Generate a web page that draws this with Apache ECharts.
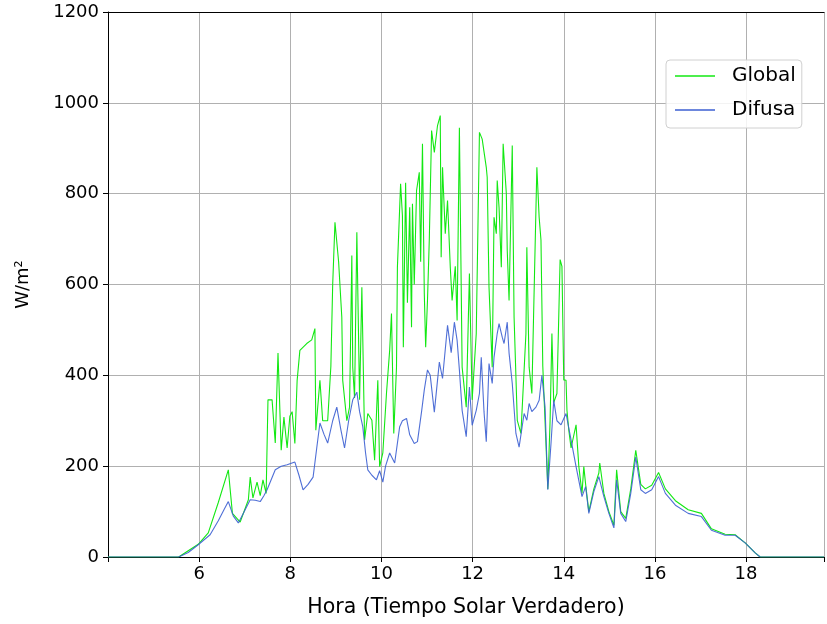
<!DOCTYPE html>
<html>
<head>
<meta charset="utf-8">
<script src="https://cdn.jsdelivr.net/npm/echarts@6/dist/echarts.min.js"></script>
<style>
  html, body { margin: 0; padding: 0; background: #fff; }
  #chart { width: 827px; height: 624px; }
</style>
</head>
<body>
<div id="chart"></div>
<script>
// Irradiancia global (W/m²) frente a la hora solar verdadera
const horasGlobal = [4.00, 5.55, 5.98, 6.20, 6.42, 6.64, 6.73, 6.90, 7.08, 7.12, 7.18, 7.27, 7.34, 7.40, 7.47, 7.51, 7.60, 7.67, 7.73, 7.80, 7.86, 7.93, 7.99, 8.04, 8.10, 8.15, 8.21, 8.36, 8.47, 8.54, 8.56, 8.65, 8.71, 8.82, 8.89, 8.93, 8.98, 9.02, 9.06, 9.13, 9.15, 9.24, 9.30, 9.35, 9.37, 9.41, 9.46, 9.52, 9.57, 9.63, 9.70, 9.79, 9.85, 9.92, 9.96, 10.03, 10.11, 10.18, 10.22, 10.27, 10.33, 10.35, 10.42, 10.46, 10.48, 10.53, 10.57, 10.62, 10.66, 10.68, 10.72, 10.77, 10.83, 10.86, 10.90, 10.94, 10.97, 11.01, 11.05, 11.10, 11.16, 11.23, 11.29, 11.31, 11.34, 11.40, 11.45, 11.51, 11.55, 11.62, 11.66, 11.71, 11.77, 11.86, 11.93, 11.99, 12.08, 12.15, 12.21, 12.25, 12.30, 12.32, 12.36, 12.43, 12.47, 12.52, 12.54, 12.58, 12.63, 12.67, 12.74, 12.76, 12.80, 12.87, 12.91, 12.98, 13.06, 13.17, 13.19, 13.24, 13.30, 13.41, 13.46, 13.50, 13.54, 13.63, 13.65, 13.70, 13.74, 13.78, 13.85, 13.92, 13.96, 14.00, 14.05, 14.07, 14.11, 14.16, 14.27, 14.33, 14.40, 14.44, 14.48, 14.55, 14.66, 14.77, 14.79, 14.88, 14.99, 15.10, 15.16, 15.25, 15.36, 15.47, 15.58, 15.69, 15.79, 15.93, 16.08, 16.23, 16.45, 16.73, 17.02, 17.24, 17.54, 17.76, 17.98, 18.20, 18.31, 19.71];
const global = [0, 0, 28, 53, 120, 192, 96, 77, 126, 176, 130, 165, 135, 170, 140, 346, 346, 251, 449, 235, 308, 240, 310, 320, 250, 389, 455, 470, 478, 503, 279, 389, 300, 300, 420, 600, 737, 741, 650, 528, 389, 300, 330, 664, 418, 350, 715, 346, 594, 258, 316, 301, 213, 389, 199, 229, 360, 455, 536, 272, 418, 638, 822, 752, 462, 824, 560, 770, 506, 778, 600, 807, 847, 650, 910, 580, 462, 565, 700, 939, 891, 950, 972, 660, 858, 712, 785, 638, 565, 640, 521, 945, 418, 330, 624, 346, 492, 935, 920, 924, 858, 836, 594, 418, 748, 712, 829, 770, 638, 910, 800, 675, 565, 906, 528, 301, 272, 492, 682, 418, 360, 858, 748, 698, 420, 199, 150, 300, 492, 340, 360, 655, 640, 390, 389, 323, 280, 240, 291, 200, 140, 199, 160, 100, 150, 185, 207, 140, 100, 70, 192, 100, 85, 150, 235, 160, 150, 158, 186, 150, 124, 104, 96, 62, 50, 49, 31, 9, 0, 0];

// Irradiancia difusa (W/m²)
const horasDifusa = [4.00, 5.55, 5.76, 5.98, 6.24, 6.42, 6.55, 6.64, 6.75, 6.86, 6.99, 7.12, 7.23, 7.34, 7.42, 7.49, 7.67, 7.80, 7.93, 8.10, 8.19, 8.28, 8.39, 8.50, 8.58, 8.65, 8.74, 8.82, 8.93, 9.02, 9.11, 9.19, 9.28, 9.37, 9.46, 9.52, 9.59, 9.65, 9.70, 9.79, 9.89, 9.96, 10.03, 10.09, 10.18, 10.29, 10.40, 10.46, 10.55, 10.62, 10.66, 10.72, 10.79, 10.88, 10.94, 11.01, 11.07, 11.16, 11.27, 11.34, 11.45, 11.53, 11.60, 11.66, 11.71, 11.77, 11.86, 11.93, 11.99, 12.08, 12.15, 12.19, 12.25, 12.30, 12.36, 12.43, 12.47, 12.54, 12.58, 12.65, 12.69, 12.76, 12.80, 12.87, 12.95, 13.02, 13.13, 13.19, 13.24, 13.30, 13.39, 13.46, 13.52, 13.59, 13.65, 13.72, 13.78, 13.85, 13.94, 14.05, 14.16, 14.27, 14.40, 14.48, 14.55, 14.66, 14.77, 14.88, 14.99, 15.10, 15.16, 15.25, 15.36, 15.47, 15.58, 15.69, 15.79, 15.93, 16.08, 16.23, 16.45, 16.73, 17.02, 17.24, 17.54, 17.76, 17.98, 18.20, 18.31, 19.71];
const difusa = [0, 0, 10, 27, 49, 80, 105, 122, 90, 75, 100, 126, 125, 122, 135, 148, 192, 200, 203, 209, 180, 148, 160, 176, 240, 295, 270, 251, 300, 330, 280, 240, 300, 346, 363, 320, 287, 230, 192, 180, 170, 190, 165, 200, 229, 207, 287, 300, 305, 269, 265, 250, 254, 320, 368, 412, 400, 319, 429, 393, 510, 450, 517, 477, 412, 323, 265, 374, 290, 323, 360, 440, 320, 254, 426, 382, 440, 492, 514, 484, 470, 517, 449, 382, 272, 242, 316, 301, 338, 320, 330, 345, 400, 330, 148, 250, 345, 300, 291, 316, 258, 199, 133, 155, 96, 144, 177, 133, 96, 64, 170, 96, 78, 140, 220, 148, 140, 148, 177, 140, 114, 96, 89, 59, 48, 48, 31, 9, 0, 0];

// Marcas de los ejes
const ticksHora = [6, 8, 10, 12, 14, 16, 18];
const ticksIrr = [0, 200, 400, 600, 800, 1000, 1200];

const FONT = 'DejaVu Sans';
const X_MIN = 4, X_MAX = 19.71;
const chart = echarts.init(document.getElementById('chart'), null, { renderer: 'canvas' });

chart.setOption({
  animation: false,
  backgroundColor: '#ffffff',
  grid: { left: 108, right: 0, top: 12, bottom: 67, show: false },
  legend: {
    orient: 'vertical',
    left: 666, top: 60,
    padding: [6, 6, 8, 9],
    icon: 'rect',
    itemWidth: 40, itemHeight: 1.5, itemGap: 14,
    backgroundColor: 'rgba(255,255,255,0.85)',
    borderColor: '#d0d0d0', borderWidth: 1, borderRadius: 4,
    textStyle: { fontFamily: FONT, fontSize: 20, color: '#000', padding: [0, 0, 0, 12], lineHeight: 20 },
    data: ['Global', 'Difusa']
  },
  xAxis: [
    {
      type: 'value',
      min: X_MIN, max: X_MAX, interval: 2,
      name: 'Hora (Tiempo Solar Verdadero)',
      nameLocation: 'middle', nameGap: 40,
      nameTextStyle: { fontFamily: FONT, fontSize: 20.5, color: '#000' },
      axisLine: { show: true, lineStyle: { color: '#000', width: 1 } },
      axisTick: { show: true, length: 5, inside: false, lineStyle: { color: '#000' } },
      axisLabel: {
        fontFamily: FONT, fontSize: 18, color: '#000', margin: 8,
        formatter: v => ticksHora.includes(v) ? String(v) : ''
      },
      splitLine: { show: true, lineStyle: { color: '#b0b0b0', width: 1 } }
    },
    {
      // marco superior del área de trazado
      type: 'value', position: 'top',
      min: X_MIN, max: X_MAX,
      axisLine: { show: true, onZero: false, lineStyle: { color: '#000', width: 1 } },
      axisTick: { show: false }, axisLabel: { show: false }, splitLine: { show: false }
    }
  ],
  yAxis: {
    type: 'value',
    min: ticksIrr[0], max: ticksIrr[ticksIrr.length - 1], interval: 200,
    name: 'W/m²',
    nameLocation: 'middle', nameGap: 76, nameRotate: 90,
    nameTextStyle: { fontFamily: FONT, fontSize: 18, color: '#000' },
    axisLine: { show: true, lineStyle: { color: '#000', width: 1 } },
    axisTick: { show: true, length: 5, inside: false, lineStyle: { color: '#000' } },
    axisLabel: {
      fontFamily: FONT, fontSize: 18, color: '#000', margin: 9,
      formatter: v => ticksIrr.includes(v) ? String(v) : ''
    },
    splitLine: { show: true, lineStyle: { color: '#b0b0b0', width: 1 } }
  },
  series: [
    {
      name: 'Global', type: 'line', symbol: 'none', xAxisIndex: 0,
      data: horasGlobal.map((h, i) => [h, global[i]]),
      lineStyle: { color: '#13e813', width: 1.1 },
      itemStyle: { color: '#13e813' },
      z: 2
    },
    {
      name: 'Difusa', type: 'line', symbol: 'none', xAxisIndex: 0,
      data: horasDifusa.map((h, i) => [h, difusa[i]]),
      lineStyle: { color: '#3c5fd2', width: 1.1, opacity: 0.9 },
      itemStyle: { color: '#3c5fd2' },
      z: 3
    }
  ]
});
</script>
</body>
</html>
